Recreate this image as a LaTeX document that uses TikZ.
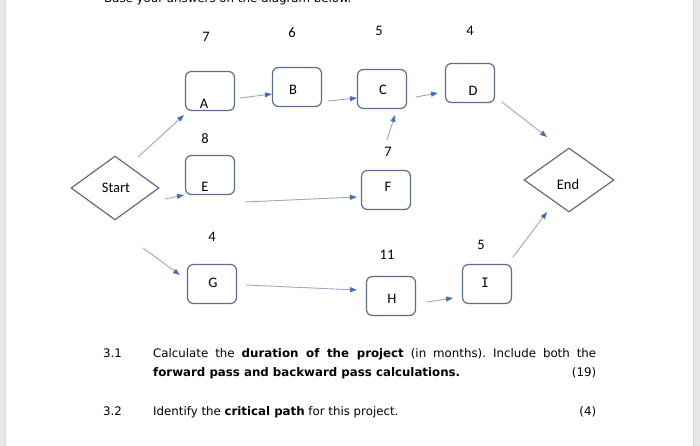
\documentclass[tikz,border=0pt]{standalone}
\usepackage{fontspec}
\setmainfont{Carlito}
\newfontfamily\qfont{DejaVu Sans}
\newfontfamily\monofnt{DejaVu Sans Mono}
\usetikzlibrary{arrows.meta,shapes.geometric}
\definecolor{boxc}{HTML}{5D6C8A}
\definecolor{linec}{HTML}{9AA8C4}
\definecolor{tipc}{HTML}{4A6FB5}
\definecolor{stripc}{HTML}{E6E6EB}
\definecolor{stripd}{HTML}{D4D4DA}
\frenchspacing
\begin{document}
\begin{tikzpicture}[x=1pt,y=-1pt,
  act/.style={draw=boxc,line width=1.2pt,rounded corners=6pt,minimum width=49pt,minimum height=39pt,inner sep=0pt},
  dia/.style={draw=boxc,line width=1.2pt,diamond,inner sep=0pt,font=\fontsize{14.5}{16}\selectfont},
  lbl/.style={inner sep=0pt,font=\fontsize{14.5}{16}\selectfont},
  num/.style={inner sep=0pt,font=\fontsize{14.5}{16}\selectfont},
  q/.style={inner sep=0pt,anchor=base west,font=\qfont\fontsize{11.8}{19}\selectfont},
  conn/.style={draw=linec,line width=0.9pt,-{Triangle[length=7pt,width=5pt,color=tipc,fill=tipc]}}]
\useasboundingbox (0,0) rectangle (700,446);
\fill[white] (0,0) rectangle (700,446);
\fill[stripc] (0,0) rectangle (5,446);
\draw[stripd,line width=0.8pt] (5,0) -- (5,446);
\fill[stripc] (693,0) rectangle (700,446);
\draw[stripd,line width=0.8pt] (693,0) -- (693,446);

% cut-off top line
\node[q] (top) at (104,2.5) {Base your answers on the diagram below.};

% diamonds
\node[dia,minimum width=88pt,minimum height=64pt] (S) at (115,188) {};
\node[lbl] (St) at (116,188) {Start};
\node[dia,minimum width=90pt,minimum height=64pt] (N) at (569,180) {};
\node[lbl] (Nt) at (568,185) {End};

% activity boxes
\node[act] (A) at (210,91) {};
\node[act] (B) at (297,87) {};
\node[act] (C) at (382,89) {};
\node[act] (D) at (470,83) {};
\node[act] (E) at (210,175) {};
\node[act] (F) at (386,190) {};
\node[act] (G) at (212,284) {};
\node[act] (H) at (391,296) {};
\node[act] (I) at (487,284) {};

% letters
\node[lbl] (At) at (204,104) {A};
\node[lbl] (Bt) at (293,90) {B};
\node[lbl] (Ct) at (383,90) {C};
\node[lbl] (Dt) at (473,91) {D};
\node[lbl] (Et) at (205,187) {E};
\node[lbl] (Ft) at (388,187) {F};
\node[lbl] (Gt) at (213,283) {G};
\node[lbl] (Ht) at (392,299) {H};
\node[lbl] (It) at (485,283) {\monofnt\fontsize{13}{15}\selectfont I};

% durations
\node[num] (nA) at (206,37) {7};
\node[num] (nB) at (292,33) {6};
\node[num] (nC) at (379,31) {5};
\node[num] (nD) at (470,31) {4};
\node[num] (nE) at (205,139) {8};
\node[num] (nF) at (388,152) {7};
\node[num] (nG) at (212,237) {4};
\node[num] (nH) at (387,255) {11};
\node[num] (nI) at (481,245) {5};

% connectors
\draw[conn] ([shift={(23,-31)}]S.center) -- ([shift={(-26,24)}]A.center);
\draw[conn] ([shift={(50,11)}]S.center) -- ([shift={(-26,20)}]E.center);
\draw[conn] ([shift={(30,7)}]A.center) -- ([shift={(-25,7)}]B.center);
\draw[conn] ([shift={(31,14)}]B.center) -- ([shift={(-25,9)}]C.center);
\draw[conn] ([shift={(34,8)}]C.center) -- ([shift={(-32,10)}]D.center);
\draw[conn] ([shift={(32,19)}]D.center) -- ([shift={(-22,-43)}]N.center);
\draw[conn] ([shift={(1,-50)}]F.center) -- ([shift={(13,26)}]C.center);
\draw[conn] ([shift={(35,27)}]E.center) -- ([shift={(-29,7)}]F.center);
\draw[conn] ([shift={(28,60)}]S.center) -- ([shift={(-32,-9)}]G.center);
\draw[conn] ([shift={(34,1)}]G.center) -- ([shift={(-34,-6)}]H.center);
\draw[conn] ([shift={(36,6)}]H.center) -- ([shift={(-34,14)}]I.center);
\draw[conn] ([shift={(26,-27)}]I.center) -- ([shift={(-22,32)}]N.center);

% questions
\node[q] (q1n) at (103,357.5) {3.1};
\node[q] (q1a) at (153,357.5) {\makebox[443pt][s]{Calculate the \textbf{duration of the project} (in months). Include both the}};
\node[q] (q1b) at (153,376.5) {\makebox[443pt]{\textbf{forward pass and backward pass calculations.}\hfill(19)}};
\node[q] (q2n) at (103,415) {3.2};
\node[q] (q2a) at (153,415) {\makebox[443pt]{Identify the \textbf{critical path} for this project.\hfill(4)}};
\end{tikzpicture}
\end{document}
